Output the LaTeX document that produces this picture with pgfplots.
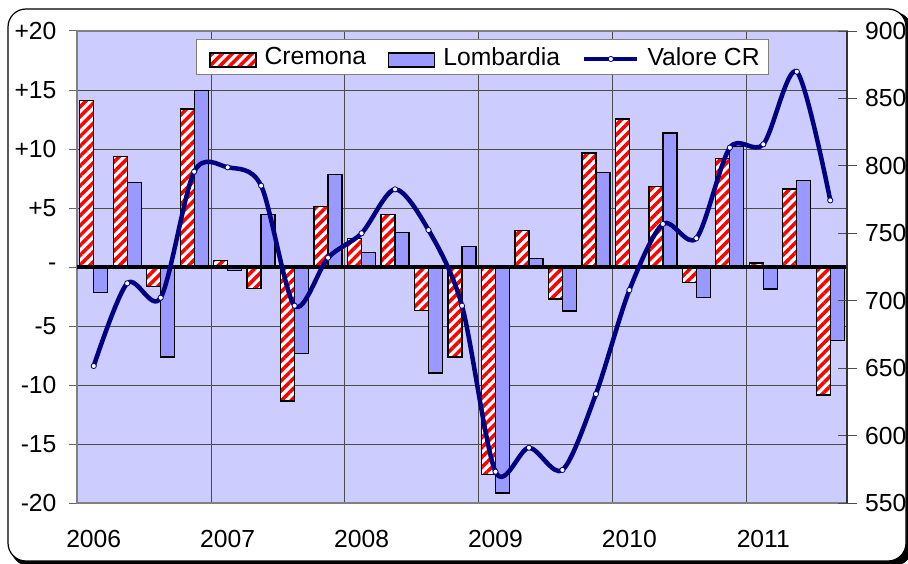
\documentclass[border=0pt]{standalone}
\usepackage{pgfplots}
\pgfplotsset{compat=1.18}
\usepackage{fontspec}
\setmainfont{Liberation Sans}
\usetikzlibrary{patterns.meta}
\definecolor{bgc}{HTML}{CCCCFF}
\definecolor{lomb}{HTML}{9999FF}
\definecolor{navyc}{HTML}{000080}
\newcommand{\ff}{\fontsize{24.7}{29}\selectfont}
\tikzset{crem/.style={draw=black, line width=1.3pt, preaction={fill=white},
  pattern={Lines[angle=45,distance=7pt,line width=3.5pt]}, pattern color=red}}
\begin{document}
\begin{tikzpicture}[font=\ff]
\useasboundingbox (-77pt,-60pt) rectangle (831pt,503pt);
\fill[black, rounded corners=18pt] (-66pt,491pt) rectangle (835pt,-63pt);
\filldraw[fill=white, draw=black, line width=1.2pt, rounded corners=18pt] (-69pt,494pt) rectangle (829pt,-58pt);
\begin{axis}[
  at={(0pt,0pt)}, anchor=south west, scale only axis,
  width=770pt, height=472pt,
  xmin=-0.5, xmax=22.5, ymin=-20, ymax=20,
  axis background/.style={fill=bgc},
  axis line style={draw=black!50, line width=1.2pt},
  ytick={-20,-15,-10,-5,0,5,10,15,20},
  yticklabels={-20,-15,-10,-5,-,+5,+10,+15,+20},
  xtick={0,4,8,12,16,20},
  xticklabels={2006,2007,2008,2009,2010,2011},
  minor xtick={3.5,7.5,11.5,15.5,19.5},
  xminorgrids, ymajorgrids,
  grid style={draw=black!70, line width=0.8pt},
  minor grid style={draw=black!70, line width=0.8pt},
  xtick pos=bottom, ytick pos=left,
  tick align=outside, major tick length=8pt, minor tick length=0pt,
  major x tick style={draw=none},
  ytick style={draw=black!60, line width=1pt},
  tick label style={font=\ff},
  yticklabel style={xshift=-9pt},
  xticklabel style={yshift=-16pt},
]
\addplot[ybar, bar width=14pt, bar shift=-7pt, crem] coordinates {
(0,14.1) (1,9.35) (2,-1.67) (3,13.4) (4,0.54) (5,-1.84) (6,-11.35) (7,5.1)
(8,2.4) (9,4.46) (10,-3.7) (11,-7.63) (12,-17.6) (13,3.08) (14,-2.71) (15,9.66)
(16,12.55) (17,6.8) (18,-1.33) (19,9.2) (20,0.35) (21,6.6) (22,-10.85)};
\addplot[ybar, bar width=14pt, bar shift=7pt, draw=black, line width=1.3pt, fill=lomb] coordinates {
(0,-2.18) (1,7.15) (2,-7.63) (3,14.94) (4,-0.31) (5,4.46) (6,-7.32) (7,7.82)
(8,1.21) (9,2.91) (10,-8.98) (11,1.72) (12,-19.15) (13,0.71) (14,-3.73) (15,7.99)
(17,11.36) (18,-2.57) (19,10.2) (20,-1.86) (21,7.31) (22,-6.24)};
\addplot[black, line width=4pt, forget plot] coordinates {(-0.5,0) (22.5,0)};
\end{axis}
\begin{axis}[
  at={(0pt,0pt)}, anchor=south west, scale only axis,
  width=770pt, height=472pt,
  xmin=-0.5, xmax=22.5, ymin=550, ymax=900,
  axis x line=none, axis y line*=right,
  axis line style={draw=black!80, line width=1.5pt},
  ytick={550,600,650,700,750,800,850,900},
  yticklabels={550,600,650,700,750,800,850,900},
  tick align=center, major tick length=19pt,
  ytick style={draw=black!70, line width=1pt},
  tick label style={font=\ff},
  yticklabel style={xshift=5pt},
  legend columns=3,
  legend style={at={(0.5266,0.945)}, anchor=center, font=\ff,
    draw=black!50, line width=1.2pt, fill=white,
    inner xsep=7pt, inner ysep=6pt,
    /tikz/every odd column/.append style={column sep=6pt},
    /tikz/every even column/.append style={column sep=20pt}},
]
\addlegendimage{legend image code/.code={\path (-6pt,0pt); \draw[crem] (0pt,-10pt) rectangle (46pt,4pt);}}
\addlegendentry{Cremona}
\addlegendimage{legend image code/.code={\draw[draw=black, line width=1.3pt, fill=lomb] (0pt,-10pt) rectangle (46pt,4pt);}}
\addlegendentry{Lombardia}
\addplot[navyc, line width=4.5pt, smooth, tension=0.5, mark=*, mark size=2.6pt,
  mark options={fill=white, draw=navyc, line width=0.8pt},
  legend image code/.code={\draw[navyc, line width=4.5pt] (0pt,-2pt) -- (53pt,-2pt);
    \draw[navyc, fill=white, line width=0.8pt] (26.5pt,-2pt) circle (2.6pt);}] coordinates {
(0,651.6) (1,712.9) (2,702.2) (3,795.7) (4,798.9) (5,785.3) (6,696.3) (7,731.9)
(8,750) (9,782.6) (10,752.4) (11,696.3) (12,573.2) (13,591) (14,574.5) (15,630.8)
(16,707.9) (17,756.9) (18,746.3) (19,813.5) (20,816) (21,869.8) (22,774.4)};
\addlegendentry{Valore CR}
\end{axis}
\end{tikzpicture}
\end{document}
